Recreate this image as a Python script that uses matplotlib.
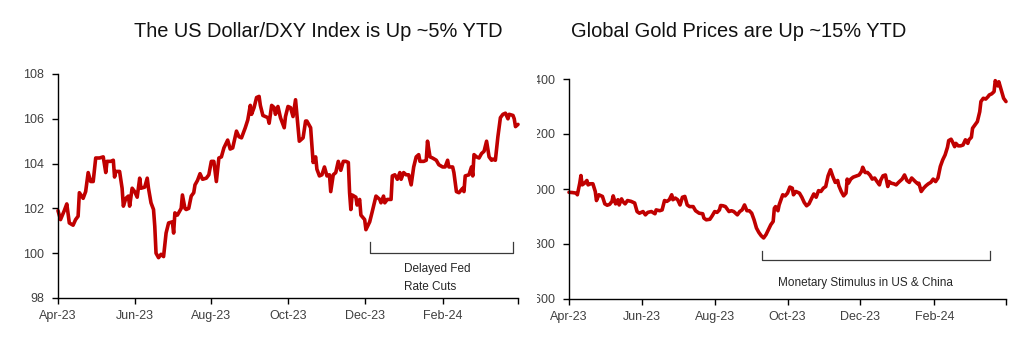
import matplotlib
matplotlib.use('Agg')
import matplotlib.pyplot as plt
import pandas as pd
from matplotlib.transforms import Bbox, TransformedBbox

plt.rcParams['font.family'] = ['Liberation Sans', 'DejaVu Sans']

# ---------------- data ----------------
dxy_dates = [
    '2023-04-17', '2023-04-19', '2023-04-22', '2023-04-24', '2023-04-26', '2023-04-29', '2023-05-01', '2023-05-03',
    '2023-05-04', '2023-05-07', '2023-05-09', '2023-05-11', '2023-05-13', '2023-05-15', '2023-05-17', '2023-05-20',
    '2023-05-23', '2023-05-25', '2023-05-26', '2023-05-29', '2023-05-31', '2023-06-01', '2023-06-02', '2023-06-05',
    '2023-06-07', '2023-06-08', '2023-06-10', '2023-06-12', '2023-06-13', '2023-06-15', '2023-06-17', '2023-06-19',
    '2023-06-21', '2023-06-22', '2023-06-25', '2023-06-27', '2023-06-28', '2023-06-30', '2023-07-02', '2023-07-03',
    '2023-07-04', '2023-07-06', '2023-07-08', '2023-07-10', '2023-07-12', '2023-07-14', '2023-07-17', '2023-07-18',
    '2023-07-19', '2023-07-21', '2023-07-24', '2023-07-25', '2023-07-27', '2023-07-28', '2023-07-30', '2023-08-01',
    '2023-08-03', '2023-08-04', '2023-08-06', '2023-08-08', '2023-08-10', '2023-08-13', '2023-08-15', '2023-08-17',
    '2023-08-19', '2023-08-21', '2023-08-23', '2023-08-25', '2023-08-27', '2023-08-30', '2023-09-01', '2023-09-03',
    '2023-09-06', '2023-09-08', '2023-09-10', '2023-09-13', '2023-09-15', '2023-09-17', '2023-09-18', '2023-09-20',
    '2023-09-22', '2023-09-24', '2023-09-25', '2023-09-27', '2023-10-01', '2023-10-02', '2023-10-04', '2023-10-06',
    '2023-10-07', '2023-10-09', '2023-10-11', '2023-10-14', '2023-10-15', '2023-10-17', '2023-10-19', '2023-10-21',
    '2023-10-23', '2023-10-24', '2023-10-26', '2023-10-29', '2023-10-31', '2023-11-01', '2023-11-04', '2023-11-06',
    '2023-11-08', '2023-11-09', '2023-11-11', '2023-11-13', '2023-11-15', '2023-11-17', '2023-11-19', '2023-11-20',
    '2023-11-22', '2023-11-24', '2023-11-26', '2023-11-28', '2023-11-30', '2023-12-02', '2023-12-04', '2023-12-05',
    '2023-12-06', '2023-12-07', '2023-12-10', '2023-12-11', '2023-12-13', '2023-12-14', '2023-12-17', '2023-12-18',
    '2023-12-21', '2023-12-23', '2023-12-26', '2023-12-29', '2023-12-30', '2024-01-01', '2024-01-02', '2024-01-04',
    '2024-01-07', '2024-01-08', '2024-01-10', '2024-01-12', '2024-01-14', '2024-01-15', '2024-01-17', '2024-01-19',
    '2024-01-21', '2024-01-23', '2024-01-25', '2024-01-27', '2024-01-29', '2024-01-30', '2024-02-02', '2024-02-04',
    '2024-02-05', '2024-02-07', '2024-02-09', '2024-02-12', '2024-02-14', '2024-02-17', '2024-02-19', '2024-02-21',
    '2024-02-22', '2024-02-25', '2024-02-26', '2024-02-28', '2024-03-01', '2024-03-04', '2024-03-05', '2024-03-06',
    '2024-03-09', '2024-03-11', '2024-03-12', '2024-03-13', '2024-03-15', '2024-03-17', '2024-03-19', '2024-03-21',
    '2024-03-23', '2024-03-25', '2024-03-27', '2024-03-28', '2024-03-30', '2024-04-01', '2024-04-03', '2024-04-05',
    '2024-04-07', '2024-04-09', '2024-04-10', '2024-04-13', '2024-04-14', '2024-04-15', '2024-04-17',
]
dxy_values = [
    101.9, 101.5, 101.9, 102.2, 101.35, 101.25, 101.5, 101.65,
    102.7, 102.45, 102.75, 103.6, 103.2, 103.2, 104.25, 104.25,
    104.3, 103.6, 104.1, 104.1, 104.15, 103.4, 103.65, 103.65,
    102.9, 102.1, 102.45, 102.55, 102.1, 102.9, 102.75, 102.5,
    103.35, 102.9, 102.95, 103.35, 102.9, 102.25, 101.95, 101.2,
    100.0, 99.8, 99.95, 99.85, 100.9, 101.35, 101.4, 100.9,
    101.8, 101.7, 102.0, 102.6, 102.0, 101.95, 102.0, 102.55,
    102.7, 103.05, 103.25, 103.55, 103.3, 103.35, 103.5, 104.1,
    104.1, 103.2, 104.25, 104.3, 104.7, 105.05, 104.65, 104.7,
    105.45, 105.2, 105.15, 105.6, 105.95, 106.6, 106.2, 106.5,
    106.95, 107.0, 106.6, 106.15, 106.05, 105.8, 106.6, 106.5,
    106.2, 106.55, 106.05, 105.6, 106.1, 106.55, 106.5, 106.1,
    106.85, 106.25, 105.0, 105.15, 105.9, 105.9, 105.6, 104.05,
    104.3, 103.75, 103.45, 103.5, 103.85, 103.45, 103.5, 102.75,
    103.5, 103.6, 104.1, 103.7, 104.1, 104.1, 104.05, 102.7,
    101.95, 102.6, 102.5, 102.15, 102.4, 101.7, 101.5, 101.05,
    101.4, 101.85, 102.55, 102.4, 102.25, 102.55, 102.25, 102.4,
    102.4, 103.45, 103.5, 103.3, 103.6, 103.3, 103.6, 103.5,
    103.5, 103.05, 103.85, 104.3, 104.4, 104.1, 104.1, 104.15,
    105.0, 104.3, 104.25, 104.15, 103.95, 103.85, 103.85, 104.15,
    103.85, 103.85, 103.6, 102.75, 102.7, 102.9, 102.75, 103.45,
    103.5, 103.85, 103.45, 104.4, 104.3, 104.25, 104.45, 104.55,
    105.0, 104.3, 104.15, 104.2, 104.15, 105.2, 106.05, 106.2,
    106.25, 106.0, 106.2, 106.15, 106.0, 105.65, 105.75,
]

gold_dates = [
    '2023-04-17', '2023-04-20', '2023-04-23', '2023-04-24', '2023-04-26', '2023-04-27', '2023-04-28', '2023-04-30',
    '2023-05-02', '2023-05-03', '2023-05-05', '2023-05-07', '2023-05-09', '2023-05-10', '2023-05-12', '2023-05-15',
    '2023-05-17', '2023-05-19', '2023-05-21', '2023-05-23', '2023-05-24', '2023-05-26', '2023-05-28', '2023-05-29',
    '2023-05-31', '2023-06-01', '2023-06-03', '2023-06-05', '2023-06-08', '2023-06-11', '2023-06-13', '2023-06-15',
    '2023-06-18', '2023-06-20', '2023-06-22', '2023-06-25', '2023-06-28', '2023-06-29', '2023-07-02', '2023-07-04',
    '2023-07-06', '2023-07-08', '2023-07-10', '2023-07-12', '2023-07-13', '2023-07-15', '2023-07-17', '2023-07-19',
    '2023-07-21', '2023-07-23', '2023-07-25', '2023-07-27', '2023-07-30', '2023-08-01', '2023-08-04', '2023-08-07',
    '2023-08-08', '2023-08-10', '2023-08-13', '2023-08-15', '2023-08-17', '2023-08-19', '2023-08-21', '2023-08-22',
    '2023-08-24', '2023-08-26', '2023-08-29', '2023-08-31', '2023-09-02', '2023-09-05', '2023-09-07', '2023-09-09',
    '2023-09-11', '2023-09-13', '2023-09-15', '2023-09-17', '2023-09-19', '2023-09-21', '2023-09-23', '2023-09-25',
    '2023-09-27', '2023-09-29', '2023-10-01', '2023-10-03', '2023-10-05', '2023-10-06', '2023-10-07', '2023-10-09',
    '2023-10-10', '2023-10-12', '2023-10-13', '2023-10-15', '2023-10-17', '2023-10-19', '2023-10-21', '2023-10-22',
    '2023-10-24', '2023-10-27', '2023-10-29', '2023-10-31', '2023-11-02', '2023-11-04', '2023-11-07', '2023-11-08',
    '2023-11-10', '2023-11-12', '2023-11-14', '2023-11-16', '2023-11-18', '2023-11-20', '2023-11-22', '2023-11-24',
    '2023-11-26', '2023-11-28', '2023-11-29', '2023-12-01', '2023-12-03', '2023-12-05', '2023-12-06', '2023-12-07',
    '2023-12-09', '2023-12-11', '2023-12-14', '2023-12-16', '2023-12-18', '2023-12-19', '2023-12-21', '2023-12-23',
    '2023-12-25', '2023-12-27', '2023-12-29', '2023-12-31', '2024-01-02', '2024-01-03', '2024-01-05', '2024-01-07',
    '2024-01-09', '2024-01-10', '2024-01-12', '2024-01-14', '2024-01-16', '2024-01-18', '2024-01-21', '2024-01-23',
    '2024-01-25', '2024-01-27', '2024-01-29', '2024-02-01', '2024-02-03', '2024-02-04', '2024-02-06', '2024-02-08',
    '2024-02-10', '2024-02-12', '2024-02-14', '2024-02-16', '2024-02-18', '2024-02-20', '2024-02-22', '2024-02-24',
    '2024-02-26', '2024-02-28', '2024-02-29', '2024-03-02', '2024-03-03', '2024-03-05', '2024-03-06', '2024-03-08',
    '2024-03-10', '2024-03-12', '2024-03-14', '2024-03-16', '2024-03-17', '2024-03-19', '2024-03-20', '2024-03-22',
    '2024-03-24', '2024-03-26', '2024-03-27', '2024-03-29', '2024-03-31', '2024-04-02', '2024-04-03', '2024-04-05',
    '2024-04-07', '2024-04-08', '2024-04-10', '2024-04-11', '2024-04-13', '2024-04-15', '2024-04-17',
]
gold_values = [
    1988, 1987, 1985, 1979, 2021, 2049, 2015, 2021,
    2031, 2015, 2019, 2019, 1991, 1958, 1979, 1973,
    1946, 1941, 1944, 1955, 1975, 1946, 1961, 1942,
    1964, 1955, 1946, 1958, 1955, 1949, 1918, 1912,
    1918, 1906, 1915, 1918, 1910, 1924, 1921, 1924,
    1958, 1955, 1961, 1979, 1961, 1967, 1961, 1942,
    1970, 1973, 1942, 1936, 1936, 1921, 1912, 1910,
    1894, 1888, 1890, 1903, 1918, 1915, 1924, 1940,
    1939, 1936, 1918, 1921, 1918, 1906, 1918, 1924,
    1942, 1921, 1921, 1912, 1888, 1858, 1842, 1830,
    1822, 1834, 1852, 1870, 1882, 1930, 1936, 1921,
    1942, 1967, 1979, 1975, 1985, 2007, 2003, 1979,
    1991, 1985, 1970, 1951, 1939, 1946, 1973, 1982,
    1970, 1994, 1991, 2003, 2009, 2048, 2070, 2045,
    2024, 2031, 2012, 1991, 1975, 1985, 2036, 2021,
    2036, 2043, 2048, 2051, 2064, 2079, 2060, 2060,
    2051, 2036, 2040, 2027, 2015, 2031, 2048, 2051,
    2009, 2027, 2021, 2019, 2015, 2024, 2036, 2051,
    2031, 2024, 2040, 2027, 2019, 2021, 1991, 2003,
    2012, 2019, 2024, 2036, 2027, 2040, 2082, 2106,
    2124, 2152, 2176, 2181, 2173, 2154, 2166, 2157,
    2157, 2160, 2179, 2166, 2179, 2188, 2221, 2233,
    2245, 2281, 2318, 2330, 2327, 2336, 2342, 2346,
    2354, 2394, 2375, 2390, 2360, 2330, 2318,
]

axis_start = '2023-04-17'
x_tick_labels = ['Apr-23', 'Jun-23', 'Aug-23', 'Oct-23', 'Dec-23', 'Feb-24', '']
dxy_yticks = [98, 100, 102, 104, 106, 108]
gold_yticks = [1600, 1800, 2000, 2200, 2400]

dxy_title = 'The US Dollar/DXY Index is Up ~5% YTD'
gold_title = 'Global Gold Prices are Up ~15% YTD'
dxy_note = 'Delayed Fed\nRate Cuts'
gold_note = 'Monetary Stimulus in US & China'

# bracket annotations: (start date, end date, top value, bottom value)
dxy_bracket = ('2023-12-21', '2024-04-13', 100.5, 100.0)
gold_bracket = ('2023-09-26', '2024-04-04', 1775, 1742)
dxy_note_pos = ('2024-01-17', 98.9)
gold_note_pos = ('2023-12-21', 1658)

# ---------------- style ----------------
LINE_RED = '#C00000'
TICK_GREY = '#404040'

fig = plt.figure(figsize=(10.24, 3.51), dpi=100)
ax1 = fig.add_axes([58 / 1024, 1 - 298 / 351, 460 / 1024, 224 / 351])
ax2 = fig.add_axes([569 / 1024, 1 - 299 / 351, 437 / 1024, 220 / 351])

xticks = pd.date_range(axis_start, periods=len(x_tick_labels), freq=pd.DateOffset(months=2))


def style_axes(ax, yticks):
    for s in ['top', 'right']:
        ax.spines[s].set_visible(False)
    for s in ['left', 'bottom']:
        ax.spines[s].set_linewidth(1.0)
        ax.spines[s].set_color('#000000')
    ax.set_xlim(xticks[0], xticks[-1])
    ax.set_xticks(xticks)
    ax.set_xticklabels(x_tick_labels)
    ax.set_ylim(yticks[0], yticks[-1])
    ax.set_yticks(yticks)
    ax.set_yticklabels([str(v) for v in yticks])
    ax.tick_params(direction='out', length=4, width=1, color='#000000',
                   labelsize=9, labelcolor=TICK_GREY)
    ax.tick_params(axis='y', pad=6)
    ax.tick_params(axis='x', pad=4.5)


for ax, dates, vals, yt in [(ax1, dxy_dates, dxy_values, dxy_yticks),
                            (ax2, gold_dates, gold_values, gold_yticks)]:
    ax.plot(pd.to_datetime(dates), vals, color=LINE_RED, lw=2.6,
            solid_joinstyle='round', solid_capstyle='round', clip_on=False)
    style_axes(ax, yt)

for ax, br in [(ax1, dxy_bracket), (ax2, gold_bracket)]:
    d0, d1 = pd.Timestamp(br[0]), pd.Timestamp(br[1])
    ax.plot([d0, d0, d1, d1], [br[2], br[3], br[3], br[2]], color='#3a3a3a', lw=0.9)

ax1.text(pd.Timestamp(dxy_note_pos[0]), dxy_note_pos[1], dxy_note, ha='left', va='center',
         fontsize=8.5, color='#262626', linespacing=1.6)
ax2.text(pd.Timestamp(gold_note_pos[0]), gold_note_pos[1], gold_note, ha='center', va='center',
         fontsize=8.5, color='#262626')

fig.text(318 / 1024, 1 - 37 / 351, dxy_title, ha='center', va='baseline', fontsize=14.4, color='#111111')
fig.text(739 / 1024, 1 - 37 / 351, gold_title, ha='center', va='baseline', fontsize=14.4, color='#111111')

# the gold chart's y labels are cut at the left edge of its panel in the reference
fig.canvas.draw()
clip = TransformedBbox(Bbox([[537 / 1024, 0], [1, 1]]), fig.transFigure)
for lab in ax2.get_yticklabels():
    lab.set_clip_box(clip)
    lab.set_clip_on(True)

fig.savefig('out.png', dpi=100, facecolor='white')
